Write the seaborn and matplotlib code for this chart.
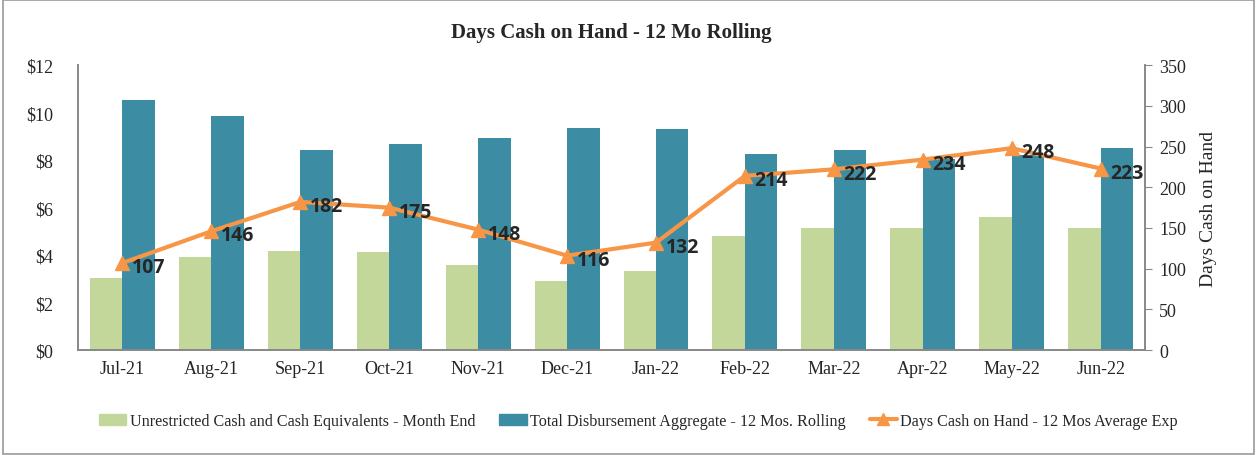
import numpy as np
import pandas as pd
import matplotlib
matplotlib.use('Agg')
import matplotlib.pyplot as plt
import seaborn as sns
from matplotlib.lines import Line2D
from matplotlib.patches import Patch

months = ['Jul-21', 'Aug-21', 'Sep-21', 'Oct-21', 'Nov-21', 'Dec-21',
          'Jan-22', 'Feb-22', 'Mar-22', 'Apr-22', 'May-22', 'Jun-22']
unrestricted = [3.03, 3.92, 4.17, 4.13, 3.58, 2.90, 3.33, 4.80, 5.14, 5.14, 5.60, 5.15]
disbursement = [10.53, 9.85, 8.42, 8.67, 8.93, 9.35, 9.31, 8.25, 8.42, 8.04, 8.20, 8.50]
days_cash = [107, 146, 182, 175, 148, 116, 132, 214, 222, 234, 248, 223]

lbl_green = 'Unrestricted Cash and Cash Equivalents - Month End'
lbl_blue = 'Total Disbursement Aggregate - 12 Mos. Rolling'
lbl_line = 'Days Cash on Hand - 12 Mos Average Exp'

c_green = '#C4D79B'
c_blue = '#3C8CA3'
c_orange = '#F79646'

df = pd.DataFrame({
    'month': months * 2,
    'value': unrestricted + disbursement,
    'series': [lbl_green] * len(months) + [lbl_blue] * len(months),
})

sns.set_style('white')
plt.rcParams['font.family'] = ['Liberation Serif', 'DejaVu Serif']

fig = plt.figure(figsize=(12.57, 4.56), dpi=100)
ax = fig.add_axes([0.062, 0.230, 0.849, 0.625])

sns.barplot(data=df, x='month', y='value', hue='series', order=months,
            palette=[c_green, c_blue], width=0.73, saturation=1, linewidth=0,
            gap=0, ax=ax, legend=False)
ax.set_ylim(0, 12)
ax.set_yticks(range(0, 13, 2))
ax.set_yticklabels([f'${v}' for v in range(0, 13, 2)], fontsize=13)
ax.set_xlabel('')
ax.set_ylabel('')
ax.tick_params(axis='x', labelsize=13, length=0, pad=7)
ax.tick_params(axis='y', length=0, pad=18)
ax.set_xlim(-0.5, len(months) - 0.5)

ax2 = ax.twinx()
x = np.arange(len(months))
ax2.plot(x, days_cash, color=c_orange, lw=3, marker='^', markersize=10)
ax2.set_ylim(0, 350)
ax2.set_yticks(range(0, 351, 50))
ax2.tick_params(axis='y', labelsize=13, length=5, direction='out', color='#888888', pad=5)
ax2.set_ylabel('Days Cash on Hand', fontsize=14, labelpad=10)
for xi, v in zip(x, days_cash):
    ax2.annotate(str(v), (xi, v), xytext=(7, -3), textcoords='offset points',
                 ha='left', va='center', fontsize=14, fontweight='bold',
                 family=['Open Sans', 'DejaVu Sans'])

for a in (ax, ax2):
    a.spines['top'].set_visible(False)
    for s in ('left', 'bottom', 'right'):
        a.spines[s].set_color('#888888')
        a.spines[s].set_linewidth(1.2)

ax.set_title('Days Cash on Hand - 12 Mo Rolling', fontsize=15, fontweight='bold', pad=20)

handles = [Patch(color=c_green, label=lbl_green),
           Patch(color=c_blue, label=lbl_blue),
           Line2D([0], [0], color=c_orange, lw=3, marker='^', markersize=8, label=lbl_line)]
fig.legend(handles=handles, loc='center', bbox_to_anchor=(0.508, 0.075), ncol=3,
           frameon=False, fontsize=11.6, handlelength=1.7, handletextpad=0.2, columnspacing=1.5)

fig.patches.append(plt.Rectangle((0.002, 0.003), 0.996, 0.994, transform=fig.transFigure,
                                 fill=False, edgecolor='#999999', lw=1.2))

fig.savefig('out.png', dpi=100)
